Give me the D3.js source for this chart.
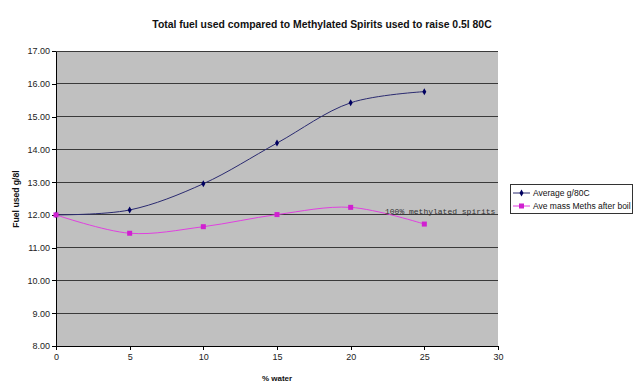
<!DOCTYPE html>
<html><head><meta charset="utf-8">
<script src="https://cdn.jsdelivr.net/npm/d3@7"></script>
<style>body{margin:0;background:#fff}svg{display:block}</style>
</head><body>
<script>
const waterPct = [0, 5, 10, 15, 20, 25];
const averageG80C = [12.00, 12.15, 12.95, 14.19, 15.42, 15.76];
const aveMassMeths = [12.00, 11.44, 11.64, 12.01, 12.23, 11.72];
const yTicks = [8, 9, 10, 11, 12, 13, 14, 15, 16, 17];
const xTicks = [0, 5, 10, 15, 20, 25, 30];
const seriesNames = ["Average g/80C", "Ave mass Meths after boil"];
const titleText = "Total fuel used compared to Methylated Spirits used to raise 0.5l 80C";
const annotation = "100% methylated spirits";

const W = 640, H = 392;
const m = {left: 56, right: 498, top: 51, bottom: 346};
const svg = d3.select("body").append("svg").attr("width", W).attr("height", H);
const x = d3.scaleLinear().domain([0, 30]).range([m.left, m.right]);
const y = d3.scaleLinear().domain([8, 17]).range([m.bottom, m.top]);

svg.append("rect").attr("x", m.left).attr("y", m.top).attr("width", m.right - m.left)
  .attr("height", m.bottom - m.top).attr("fill", "#c0c0c0");

svg.append("g").selectAll("line").data(yTicks.slice(1)).join("line")
  .attr("x1", m.left).attr("x2", m.right).attr("y1", d => y(d)).attr("y2", d => y(d))
  .attr("stroke", "#3a3a3a").attr("stroke-width", 1).attr("shape-rendering", "crispEdges");

const font = "Liberation Sans, Arial, sans-serif";
const yAxis = svg.append("g").attr("transform", `translate(${m.left},0)`)
  .call(d3.axisLeft(y).tickValues(yTicks).tickFormat(d3.format(".2f")).tickSize(4).tickSizeOuter(0));
const xAxis = svg.append("g").attr("transform", `translate(0,${m.bottom})`)
  .call(d3.axisBottom(x).tickValues(xTicks).tickFormat(d3.format("d")).tickSize(4).tickSizeOuter(0));
[yAxis, xAxis].forEach(a => {
  a.selectAll("path,line").attr("stroke", "#000").attr("shape-rendering", "crispEdges");
  a.selectAll("text").attr("font-family", font).attr("font-size", 9).attr("fill", "#222");
});
yAxis.selectAll("text").attr("x", -6);
xAxis.selectAll("text").attr("y", 8);

const line = d3.line().x(d => x(d[0])).y(d => y(d[1])).curve(d3.curveCatmullRom.alpha(0.5));
const s1 = waterPct.map((w, i) => [w, averageG80C[i]]);
const s2 = waterPct.map((w, i) => [w, aveMassMeths[i]]);

svg.append("path").datum(s2).attr("d", line).attr("fill", "none").attr("stroke", "#e040e0").attr("stroke-width", 1);
svg.append("path").datum(s1).attr("d", line).attr("fill", "none").attr("stroke", "#2a2a70").attr("stroke-width", 1);

const diamond = d3.symbol().type(d3.symbolDiamond).size(14);
svg.append("g").selectAll("path").data(s1).join("path")
  .attr("transform", d => `translate(${x(d[0])},${y(d[1])})`).attr("d", diamond).attr("fill", "#000060");
svg.append("g").selectAll("rect").data(s2).join("rect")
  .attr("x", d => x(d[0]) - 2.5).attr("y", d => y(d[1]) - 2.5).attr("width", 5).attr("height", 5).attr("fill", "#d020d0");

svg.append("text").attr("x", 385).attr("y", y(12) - 1).attr("font-family", "Liberation Mono, Courier New, monospace")
  .attr("font-size", 8).attr("fill", "#333").text(annotation);

svg.append("text").attr("x", 322).attr("y", 28).attr("text-anchor", "middle").attr("font-family", font)
  .attr("font-size", 10.4).attr("font-weight", "bold").attr("fill", "#111").text(titleText);

svg.append("text").attr("transform", `translate(19,199) rotate(-90)`).attr("text-anchor", "middle")
  .attr("font-family", font).attr("font-size", 8.6).attr("font-weight", "bold").attr("fill", "#111").text("Fuel used g/8l");
svg.append("text").attr("x", 277).attr("y", 381).attr("text-anchor", "middle")
  .attr("font-family", font).attr("font-size", 8).attr("font-weight", "bold").attr("fill", "#111").text("% water");

const lg = svg.append("g").attr("transform", "translate(510,184)");
lg.append("rect").attr("x", 0.5).attr("y", 0.5).attr("width", 122).attr("height", 29).attr("fill", "#fff").attr("stroke", "#333");
const lc = ["#2a2a70", "#e040e0"];
seriesNames.forEach((n, i) => {
  const yy = 9 + i * 13;
  lg.append("line").attr("x1", 3).attr("x2", 20).attr("y1", yy).attr("y2", yy).attr("stroke", lc[i]);
  if (i === 0) lg.append("path").attr("transform", `translate(11.5,${yy})`).attr("d", diamond).attr("fill", "#000060");
  else lg.append("rect").attr("x", 9).attr("y", yy - 2.5).attr("width", 5).attr("height", 5).attr("fill", "#d020d0");
  lg.append("text").attr("x", 23).attr("y", yy + 3).attr("font-family", font).attr("font-size", 8.5).attr("fill", "#111").text(n);
});
</script>
</body></html>
